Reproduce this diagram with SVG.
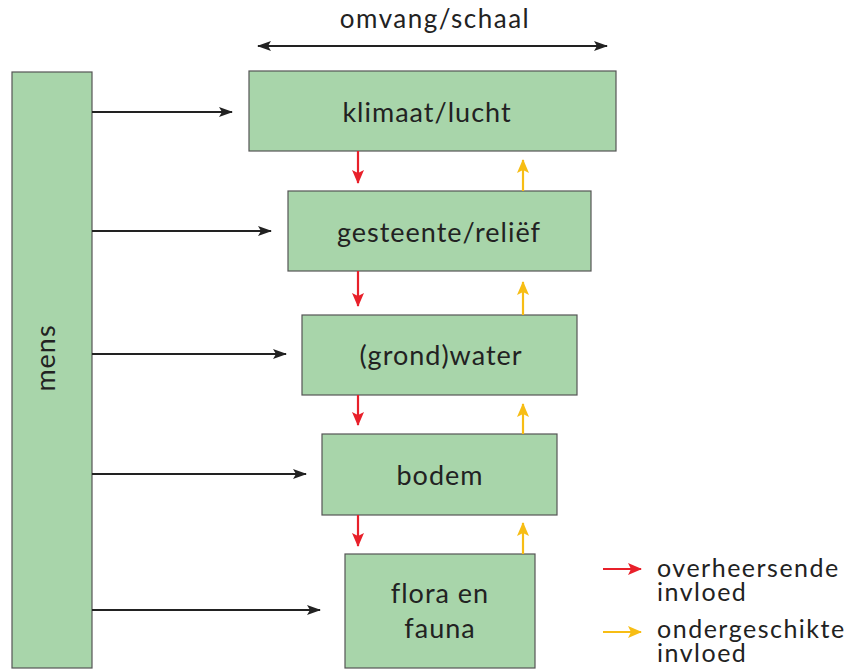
<svg xmlns="http://www.w3.org/2000/svg" width="863" height="671" viewBox="0 0 863 671">
<defs>
<style>
.box{fill:#a8d5aa;stroke:#555;stroke-width:1.2}
.t{font-family:Lato,"Open Sans",sans-serif;font-size:27px;fill:#222;text-anchor:middle;letter-spacing:1px}
.tp{font-family:Lato,"Open Sans",sans-serif;font-size:26px;fill:#222;text-anchor:middle;letter-spacing:1.5px}
.lg{font-family:Lato,"Open Sans",sans-serif;font-size:25px;fill:#222;letter-spacing:1.5px}
.k{stroke:#222;stroke-width:2;fill:none}
.r{stroke:#e8202a;stroke-width:2.2;fill:none}
.y{stroke:#f7bd14;stroke-width:2.2;fill:none}
</style>
<marker id="ak" viewBox="0 0 14 10" refX="13" refY="5" markerWidth="14" markerHeight="10" markerUnits="userSpaceOnUse" orient="auto-start-reverse"><path d="M0,0 L14,5 L0,10 L3,5 Z" fill="#222"/></marker>
<marker id="ar" viewBox="0 0 14 12" refX="13" refY="6" markerWidth="14" markerHeight="12" markerUnits="userSpaceOnUse" orient="auto"><path d="M0,0 L14,6 L0,12 L3,6 Z" fill="#e8202a"/></marker>
<marker id="ay" viewBox="0 0 14 12" refX="13" refY="6" markerWidth="14" markerHeight="12" markerUnits="userSpaceOnUse" orient="auto"><path d="M0,0 L14,6 L0,12 L3,6 Z" fill="#f7bd14"/></marker>
</defs>
<rect width="863" height="671" fill="#fff"/>
<g id="scale">
<text class="tp" x="435" y="28">omvang/schaal</text>
</g>
<g id="mens"><rect class="box" x="12" y="72" width="80" height="596"/><text class="t" transform="translate(55,358) rotate(-90)">mens</text></g>
<g id="klimaat"><rect class="box" x="249" y="71" width="367" height="80"/><text class="t" x="427" y="122">klimaat/lucht</text></g>
<g id="gesteente"><rect class="box" x="288" y="191" width="303" height="80"/><text class="t" x="439" y="242">gesteente/reliëf</text></g>
<g id="water"><rect class="box" x="302" y="315" width="275" height="80"/><text class="t" x="441" y="365">(grond)water</text></g>
<g id="bodem"><rect class="box" x="322" y="434" width="235" height="81"/><text class="t" x="440" y="485">bodem</text></g>
<g id="flora"><rect class="box" x="345" y="554" width="190" height="114"/><text class="t" x="440" y="603">flora en</text><text class="t" x="440" y="638">fauna</text></g>
<g id="connectors">
<line class="k" x1="258" y1="46" x2="607" y2="46" marker-start="url(#ak)" marker-end="url(#ak)"/>
<line class="k" x1="92" y1="112" x2="232" y2="112" marker-end="url(#ak)"/>
<line class="k" x1="92" y1="231" x2="271" y2="231" marker-end="url(#ak)"/>
<line class="k" x1="92" y1="354" x2="286" y2="354" marker-end="url(#ak)"/>
<line class="k" x1="92" y1="474" x2="306" y2="474" marker-end="url(#ak)"/>
<line class="k" x1="92" y1="610" x2="320" y2="610" marker-end="url(#ak)"/>
<line class="r" x1="358" y1="151" x2="358" y2="183" marker-end="url(#ar)"/>
<line class="r" x1="358" y1="271" x2="358" y2="306" marker-end="url(#ar)"/>
<line class="r" x1="358" y1="395" x2="358" y2="425" marker-end="url(#ar)"/>
<line class="r" x1="358" y1="515" x2="358" y2="546" marker-end="url(#ar)"/>
<line class="y" x1="523" y1="191" x2="523" y2="160" marker-end="url(#ay)"/>
<line class="y" x1="523" y1="315" x2="523" y2="282" marker-end="url(#ay)"/>
<line class="y" x1="523" y1="434" x2="523" y2="404" marker-end="url(#ay)"/>
<line class="y" x1="523" y1="554" x2="523" y2="523" marker-end="url(#ay)"/>
</g>
<g id="legend">
<line class="r" x1="603" y1="569" x2="641" y2="569" marker-end="url(#ar)"/>
<line class="y" x1="603" y1="632" x2="641" y2="632" marker-end="url(#ay)"/>
<text class="lg" x="657" y="577">overheersende</text>
<text class="lg" x="657" y="601">invloed</text>
<text class="lg" x="657" y="638">ondergeschikte</text>
<text class="lg" x="657" y="662">invloed</text>
</g>
</svg>
